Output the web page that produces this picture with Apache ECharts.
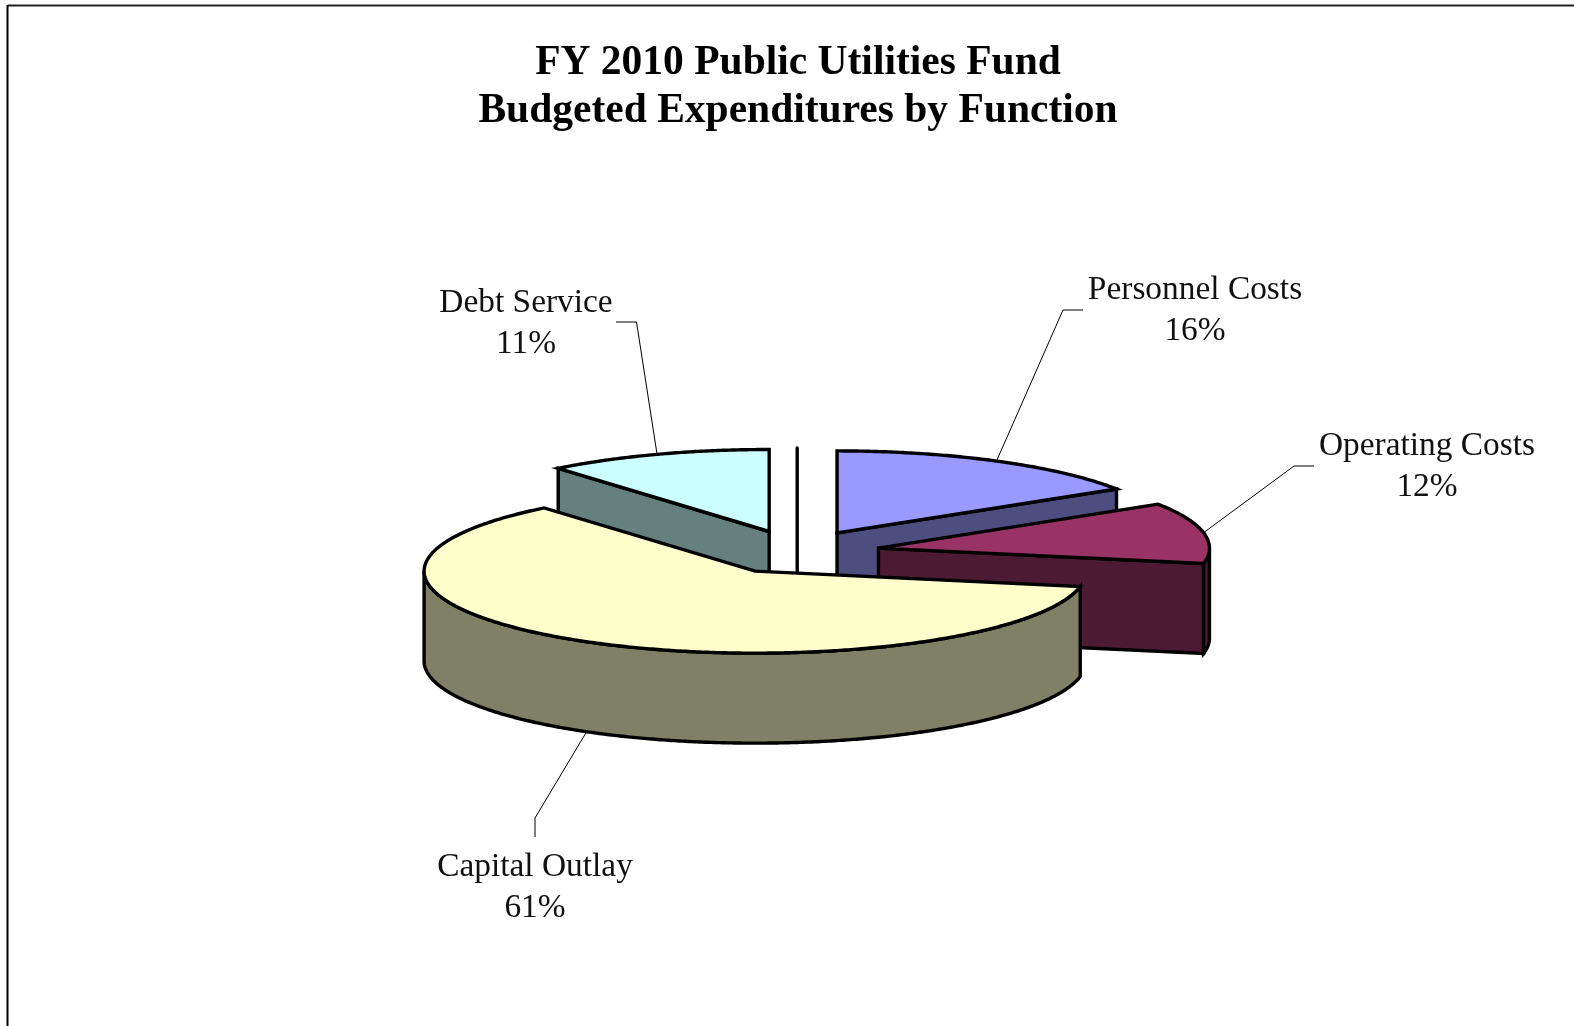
<!DOCTYPE html>
<html>
<head>
<meta charset="utf-8">
<title>FY 2010 Public Utilities Fund</title>
<style>
  html, body { margin: 0; padding: 0; background: #fff; }
  #chart { width: 1574px; height: 1026px; }
</style>
<script src="https://cdn.jsdelivr.net/npm/echarts@6/dist/echarts.min.js"></script>
</head>
<body>
<div id="chart"></div>
<script>
// Budgeted expenditures by function, percent of the fund, clockwise from 12 o'clock.
const categories = ['Personnel Costs', 'Operating Costs', 'Capital Outlay', 'Debt Service'];
const shares = [16, 12, 61, 11];
const titleLines = ['FY 2010 Public Utilities Fund', 'Budgeted Expenditures by Function'];

// Tilted-pie geometry, in pixels.
const pie = { cx: 797.2, cy: 552.2, rx: 331, ry: 82, depth: 90, explodeX: 82.7, explodeY: 22 };
const seam = { top: 448, bottom: 580 };
const OUTLINE = 3.4;

// Face colours per slice: top surface and shaded wall.
const topColors = ['#9999FF', '#993366', '#FFFFCC', '#CCFFFF'];
const wallColors = ['#4D4D80', '#4D1A33', '#808066', '#668080'];

// Label centre and leader elbow for each slice.
const labelLayout = [
  { lx: 1195, ly: 311, elbow: [1063, 310], stub: [1083, 310] },
  { lx: 1427, ly: 467, elbow: [1294, 466], stub: [1314, 466] },
  { lx: 535, ly: 888, elbow: [535, 818], stub: [535, 837] },
  { lx: 526, ly: 323.5, elbow: [636.5, 322], stub: [616, 322] }
];

const FONT_FAMILY = '"Liberation Serif", "Times New Roman", serif';
const DEG = Math.PI / 180;

// Turn the shares into clockwise angular spans.
const total = shares.reduce((a, b) => a + b, 0);
let running = 0;
const spans = shares.map((v) => {
  const start = running / total * 360;
  running += v;
  return { start, end: running / total * 360, mid: start + v / total * 180 };
});

function sliceCentre(i) {
  const m = spans[i].mid * DEG;
  return [pie.cx + pie.explodeX * Math.sin(m), pie.cy - pie.explodeY * Math.cos(m)];
}

function rimPoint(c, deg, drop) {
  const a = deg * DEG;
  return [c[0] + pie.rx * Math.sin(a), c[1] - pie.ry * Math.cos(a) + (drop || 0)];
}

function arc(c, from, to, drop) {
  const pts = [];
  const n = Math.max(2, Math.ceil(Math.abs(to - from) * 2));
  for (let k = 0; k <= n; k++) pts.push(rimPoint(c, from + (to - from) * k / n, drop));
  return pts;
}

function face(points, fill) {
  return {
    type: 'polygon',
    shape: { points },
    style: { fill, stroke: '#000', lineWidth: OUTLINE, lineJoin: 'miter', miterLimit: 6 }
  };
}

// One extruded slice: visible cut faces, front rim wall, then the top surface.
function renderSlice(params, api) {
  const i = api.value(0);
  const start = api.value(1);
  const end = api.value(2);
  const c = sliceCentre(i);
  const below = [c[0], c[1] + pie.depth];
  const children = [];

  // A cut face is visible when its outward normal points towards the viewer.
  const cutFace = (deg) => face([c, rimPoint(c, deg), rimPoint(c, deg, pie.depth), below], wallColors[i]);
  if (start > 180 && start < 360) children.push(cutFace(start));
  if (end > 0 && end < 180) children.push(cutFace(end));

  // Only the front half of the rim shows a wall.
  const wallFrom = Math.max(start, 90);
  const wallTo = Math.min(end, 270);
  if (wallTo > wallFrom) {
    const upper = arc(c, wallFrom, wallTo, 0);
    const lower = arc(c, wallTo, wallFrom, pie.depth);
    children.push(face(upper.concat(lower), wallColors[i]));
  }
  children.push(face([c].concat(arc(c, start, end, 0)), topColors[i]));
  return { type: 'group', children };
}

// Thin leader from the slice rim to its label, plus the label text.
function renderCallout(params, api) {
  const i = api.value(0);
  const c = sliceCentre(i);
  const mid = spans[i].mid;
  const frontFacing = mid > 90 && mid < 270;
  const anchor = rimPoint(c, mid, frontFacing ? pie.depth : 0);
  const L = labelLayout[i];
  return {
    type: 'group',
    children: [
      {
        type: 'polyline',
        shape: { points: [anchor, L.elbow, L.stub] },
        style: { fill: 'none', stroke: '#000', lineWidth: 1 }
      },
      {
        type: 'text',
        x: L.lx,
        y: L.ly,
        style: {
          text: categories[i] + '\n' + shares[i] + '%',
          font: '33.4px ' + FONT_FAMILY,
          lineHeight: 41,
          fill: '#111',
          align: 'center',
          verticalAlign: 'middle'
        }
      }
    ]
  };
}

// Back slices are painted first so nearer ones overlap them.
const paintOrder = categories
  .map((_, i) => i)
  .sort((a, b) => sliceCentre(a)[1] - sliceCentre(b)[1]);

const chart = echarts.init(document.getElementById('chart'));
chart.setOption({
  animation: false,
  backgroundColor: '#fff',
  title: {
    text: titleLines.join('\n'),
    left: 793,
    top: 34,
    textAlign: 'center',
    textStyle: {
      fontFamily: FONT_FAMILY,
      fontWeight: 'bold',
      fontSize: 41.5,
      lineHeight: 48,
      color: '#000'
    }
  },
  // Frame of the chart area, open at the right and bottom of the page.
  graphic: [
    { type: 'line', shape: { x1: 7.5, y1: 5.5, x2: 1574, y2: 5.5 }, style: { stroke: '#222', lineWidth: 2 } },
    { type: 'line', shape: { x1: 7.5, y1: 5, x2: 7.5, y2: 1026 }, style: { stroke: '#000', lineWidth: 2 } }
  ],
  series: [
    {
      // Edge-on divider left at 12 o'clock where the slices separate.
      type: 'custom',
      coordinateSystem: 'none',
      silent: true,
      z: 1,
      data: [[0]],
      renderItem: () => ({
        type: 'line',
        shape: { x1: pie.cx, y1: seam.top, x2: pie.cx, y2: seam.bottom },
        style: { stroke: '#000', lineWidth: OUTLINE, lineCap: 'round' }
      })
    },
    {
      type: 'custom',
      coordinateSystem: 'none',
      silent: true,
      z: 1,
      data: categories.map((name, i) => ({ name, value: [i, shares[i]] })),
      renderItem: renderCallout
    },
    {
      type: 'custom',
      coordinateSystem: 'none',
      silent: true,
      z: 2,
      data: paintOrder.map((i) => ({
        name: categories[i],
        value: [i, spans[i].start, spans[i].end, shares[i]]
      })),
      renderItem: renderSlice
    }
  ]
});
</script>
</body>
</html>
